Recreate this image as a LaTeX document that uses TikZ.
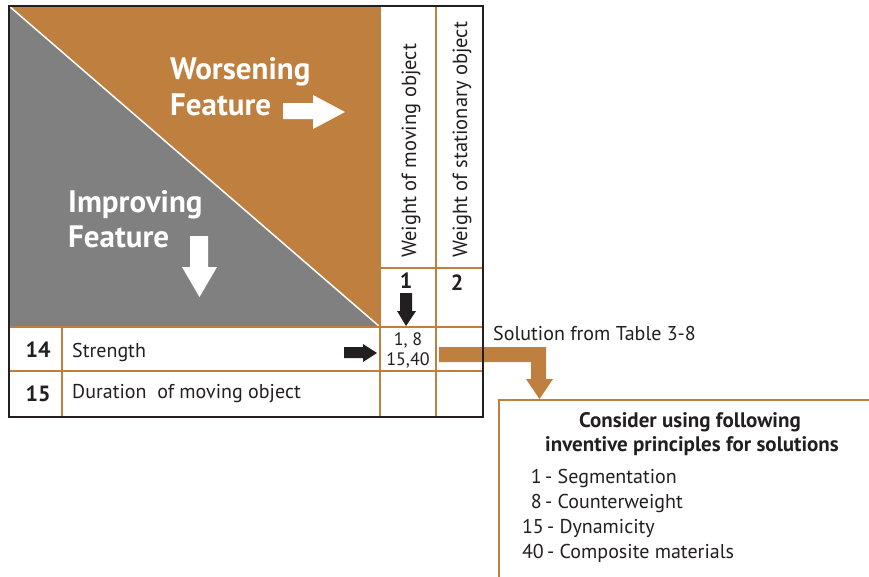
\documentclass[tikz,border=0pt]{standalone}
\usepackage{fontspec}
\setmainfont{PT Sans}
\definecolor{triz}{RGB}{191,127,62}
\definecolor{ink}{RGB}{35,31,32}
\definecolor{greyfill}{RGB}{128,128,128}
\newcommand\fsz[1]{\fontsize{#1}{#1}\selectfont}
\begin{document}
\begin{tikzpicture}[x=1pt,y=-1pt,
  txt/.style={inner sep=0pt,text=ink},
  hero/.style={inner sep=0pt,text=white,font=\fsz{31}\bfseries,anchor=base west},
  gridline/.style={draw=triz,line width=1.3pt},
  colhead/.style={txt,rotate=90,anchor=base west,font=\fsz{20.5}},
  rownum/.style={txt,font=\fsz{22}\bfseries,anchor=base},
  rowtxt/.style={txt,font=\fsz{20},anchor=base west},
  celltxt/.style={txt,font=\fsz{18},anchor=base},
  item/.style={txt,font=\fsz{20}}]
\useasboundingbox (0,0) rectangle (869,576);
\fill[white] (0,0) rectangle (869,576);

% split header: worsening (orange) over improving (grey)
\fill[triz] (9,6) -- (380,6) -- (380,327) -- cycle;
\fill[greyfill] (9,6) -- (380,327) -- (9,327) -- cycle;
\draw[white,line width=1.5pt] (9,6) -- (380,327);

\node[hero] (wors) at (170,79) {Worsening};
\node[hero] (wfeat) at (170,115) {Feature};
\node[hero] (impr) at (68,212) {Improving};
\node[hero] (ifeat) at (68,247) {Feature};

% white block arrows
\fill[white] (283,103) -- (313,103) -- (313,95) -- (345,112) -- (313,129) -- (313,119) -- (283,119) -- cycle;
\fill[white] (190,236) -- (208,236) -- (208,267) -- (217,267) -- (199.5,297) -- (182,267) -- (190,267) -- cycle;

% table grid
\draw[gridline] (380,6) -- (380,417);
\draw[gridline] (436,6) -- (436,417);
\draw[gridline] (380,268) -- (483,268);
\draw[gridline] (9,327) -- (483,327);
\draw[gridline] (9,371) -- (483,371);
\draw[gridline] (62,327) -- (62,417);

% column headers
\node[colhead] (c1) at (416,258) {Weight of moving object};
\node[colhead] (c2) at (467,258) {Weight of stationary object};
\node[rownum] (n1) at (406,288) {1};
\node[rownum] (n2) at (457,290) {2};

% row headers
\node[rownum] (r14) at (38,357) {14};
\node[rowtxt] (s14) at (72,357) {Strength};
\node[rownum] (r15) at (38,401) {15};
\node[rowtxt] (s15) at (72,398) {Duration\ \ of moving object};

% intersection cell
\node[celltxt] (cella) at (408,345) {1, 8};
\node[celltxt] (cellb) at (408,365.5) {15,40};

% black pointers into the cell
\fill[ink] (400,293) -- (412,293) -- (412,311) -- (416,311) -- (406,326) -- (397,311) -- (400,311) -- cycle;
\fill[ink] (344,347) -- (363,347) -- (363,344) -- (377,353) -- (363,362) -- (363,358) -- (344,358) -- cycle;

% orange elbow arrow to the solution box
\fill[triz] (439,347) -- (546,347) -- (546,379) -- (553,379) -- (539.5,399) -- (526,379) -- (531,379) -- (531,362) -- (439,362) -- cycle;

% outer frame
\draw[ink,line width=2pt] (9,6) rectangle (483,417);

\node[txt,font=\fsz{20},anchor=base west] (sol) at (493,340) {Solution from Table 3-8};

% solution box
\draw[triz,line width=1.3pt] (499,577) -- (499,400) -- (870,400);
\node[txt,font=\fsz{21}\bfseries,anchor=base] (t1) at (690,427) {Consider using following};
\node[txt,font=\fsz{21}\bfseries,anchor=base] (t2) at (692,451) {inventive principles for solutions};
\node[item,anchor=base east] (p1n) at (542,483) {1};
\node[item,anchor=base west] (p1) at (545,483) {- Segmentation};
\node[item,anchor=base east] (p2n) at (542,508) {8};
\node[item,anchor=base west] (p2) at (545,508) {- Counterweight};
\node[item,anchor=base east] (p3n) at (544,533) {15};
\node[item,anchor=base west] (p3) at (547,533) {- Dynamicity};
\node[item,anchor=base east] (p4n) at (544,558) {40};
\node[item,anchor=base west] (p4) at (547,558) {- Composite materials};
\end{tikzpicture}
\end{document}
